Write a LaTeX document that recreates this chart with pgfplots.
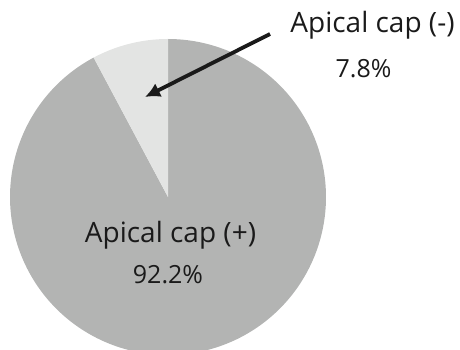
\documentclass[border=0pt]{standalone}
\usepackage{fontspec}
\setmainfont{Open Sans}
\usepackage{pgfplots}
\usepackage{pgfplotstable}
\usetikzlibrary{arrows.meta}
\pgfplotsset{compat=1.18}

\definecolor{capPos}{RGB}{179,180,179}
\definecolor{capNeg}{RGB}{227,228,227}
\definecolor{ink}{RGB}{26,26,26}

% share of each group, in percent
\pgfplotstableread{
group share
neg 7.8
pos 92.2
}\sharetable

\begin{document}
\begin{tikzpicture}
\pgfplotstablegetelem{0}{share}\of\sharetable
\pgfmathsetmacro{\negshare}{\pgfplotsretval}
\pgfplotstablegetelem{1}{share}\of\sharetable
\pgfmathsetmacro{\posshare}{\pgfplotsretval}
% slices start at 12 o'clock and run counter-clockwise
\pgfmathsetmacro{\negend}{90+3.6*\negshare}
\pgfmathsetmacro{\posend}{\negend+3.6*\posshare}
\pgfkeys{/pgf/number format/.cd, fixed, precision=1, fixed zerofill, assume math mode=true}
\begin{axis}[
  scale only axis, width=460pt, height=350pt,
  xmin=0, xmax=460, ymin=0, ymax=350,
  hide axis, clip=true,
]
% Apical cap (+)
\addplot[fill=capPos, draw=none, domain=\negend:\posend, samples=240, variable=\t]
  ({168+158*cos(\t)}, {153+158*sin(\t)}) -- (axis cs:168,153) -- cycle;
% Apical cap (-)
\addplot[fill=capNeg, draw=none, domain=90:\negend, samples=40, variable=\t]
  ({168+158*cos(\t)}, {153+158*sin(\t)}) -- (axis cs:168,153) -- cycle;

\draw[ink, line width=3.8pt, -{Latex[length=15pt, width=15pt]}]
  (axis cs:270,316) -- (axis cs:145,253);

\node[ink, anchor=base, font=\fontsize{28}{30}\selectfont] at (axis cs:170.5,107) {Apical cap (+)};
\node[ink, anchor=base, font=\fontsize{25}{28}\selectfont] at (axis cs:168,66) {\pgfmathprintnumber{\posshare}\%};
\node[ink, anchor=base, font=\fontsize{28}{30}\selectfont] at (axis cs:372.5,317) {Apical cap (-)};
\node[ink, anchor=base, font=\fontsize{25}{28}\selectfont] at (axis cs:363.5,272) {\pgfmathprintnumber{\negshare}\%};
\end{axis}
\pgfresetboundingbox
\path (current axis.south west) rectangle (current axis.north east);
\end{tikzpicture}
\end{document}
